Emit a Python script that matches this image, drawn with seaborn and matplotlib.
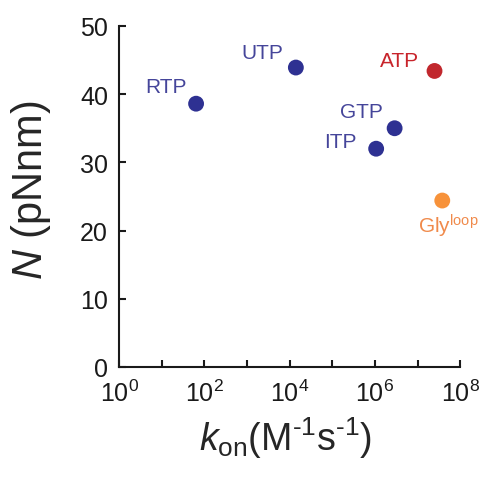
import pandas as pd
import matplotlib
matplotlib.use('Agg')
import matplotlib.pyplot as plt
import seaborn as sns
import numpy as np

# data
names = ['RTP', 'UTP', 'ATP', 'GTP', 'ITP', 'Gly$^{\\rm loop}$']
kon = [64, 1.4e4, 2.5e7, 2.9e6, 1.07e6, 3.8e7]
N = [38.6, 43.9, 43.4, 35.0, 32.0, 24.4]
group = ['blue', 'blue', 'red', 'blue', 'blue', 'orange']

xtick_vals = [10**i for i in range(9)]
xtick_labels = ['$10^{%d}$' % i if i % 2 == 0 else '' for i in range(9)]
ytick_vals = [0, 10, 20, 30, 40, 50]

dot_colors = {'blue': '#2e3192', 'red': '#c1272d', 'orange': '#f7923a'}
text_colors = {'blue': '#45459a', 'red': '#c8242b', 'orange': '#f08a4b'}
# label offsets in points
offsets = [(-22, 12.5), (-24, 11), (-25, 7.5), (-24, 12), (-26, 5.5), (4, -18)]

sns.set_style('ticks')
plt.rcParams['font.family'] = ['Liberation Sans', 'DejaVu Sans']
plt.rcParams['mathtext.fontset'] = 'custom'
plt.rcParams['mathtext.rm'] = 'Liberation Sans'
plt.rcParams['mathtext.it'] = 'Liberation Sans:italic'
plt.rcParams['mathtext.bf'] = 'Liberation Sans:bold'
plt.rcParams['text.color'] = '#1a1a1a'

df = pd.DataFrame({'name': names, 'kon': kon, 'N': N, 'group': group})

fig = plt.figure(figsize=(4.88, 4.81), dpi=100)
ax = fig.add_axes([0.244, 0.235, 0.699, 0.709])

sns.scatterplot(data=df, x='kon', y='N', hue='group', palette=dot_colors,
                s=130, edgecolor='none', legend=False, ax=ax)

for i, r in df.iterrows():
    dx, dy = offsets[i]
    ax.annotate(r['name'], (r['kon'], r['N']), xytext=(dx, dy),
                textcoords='offset points', ha='center', va='center',
                fontsize=15, color=text_colors[r['group']])

ax.set_xscale('log')
ax.set_xlim(1, 1e8)
ax.set_ylim(0, 50)
ax.set_xticks(xtick_vals)
ax.set_xticklabels(xtick_labels)
ax.xaxis.set_minor_locator(matplotlib.ticker.NullLocator())
ax.set_yticks(ytick_vals)

ax.tick_params(direction='in', length=5, width=1.5, labelsize=18,
               color='#1a1a1a', labelcolor='#1a1a1a')
ax.tick_params(axis='x', pad=9)
ax.tick_params(axis='y', pad=8)
for side in ['top', 'right']:
    ax.spines[side].set_visible(False)
for side in ['left', 'bottom']:
    ax.spines[side].set_linewidth(1.5)
    ax.spines[side].set_color('#1a1a1a')

ax.set_xlabel('$k_{\\rm on}$(M$^{\\rm \u20101}$s$^{\\rm \u20101}$)', fontsize=27)
ax.set_ylabel('$N$ (pNnm)', fontsize=30)
ax.xaxis.set_label_coords(0.487, -0.14)
ax.yaxis.set_label_coords(-0.193, 0.522)

fig.savefig('out.png', dpi=100)
